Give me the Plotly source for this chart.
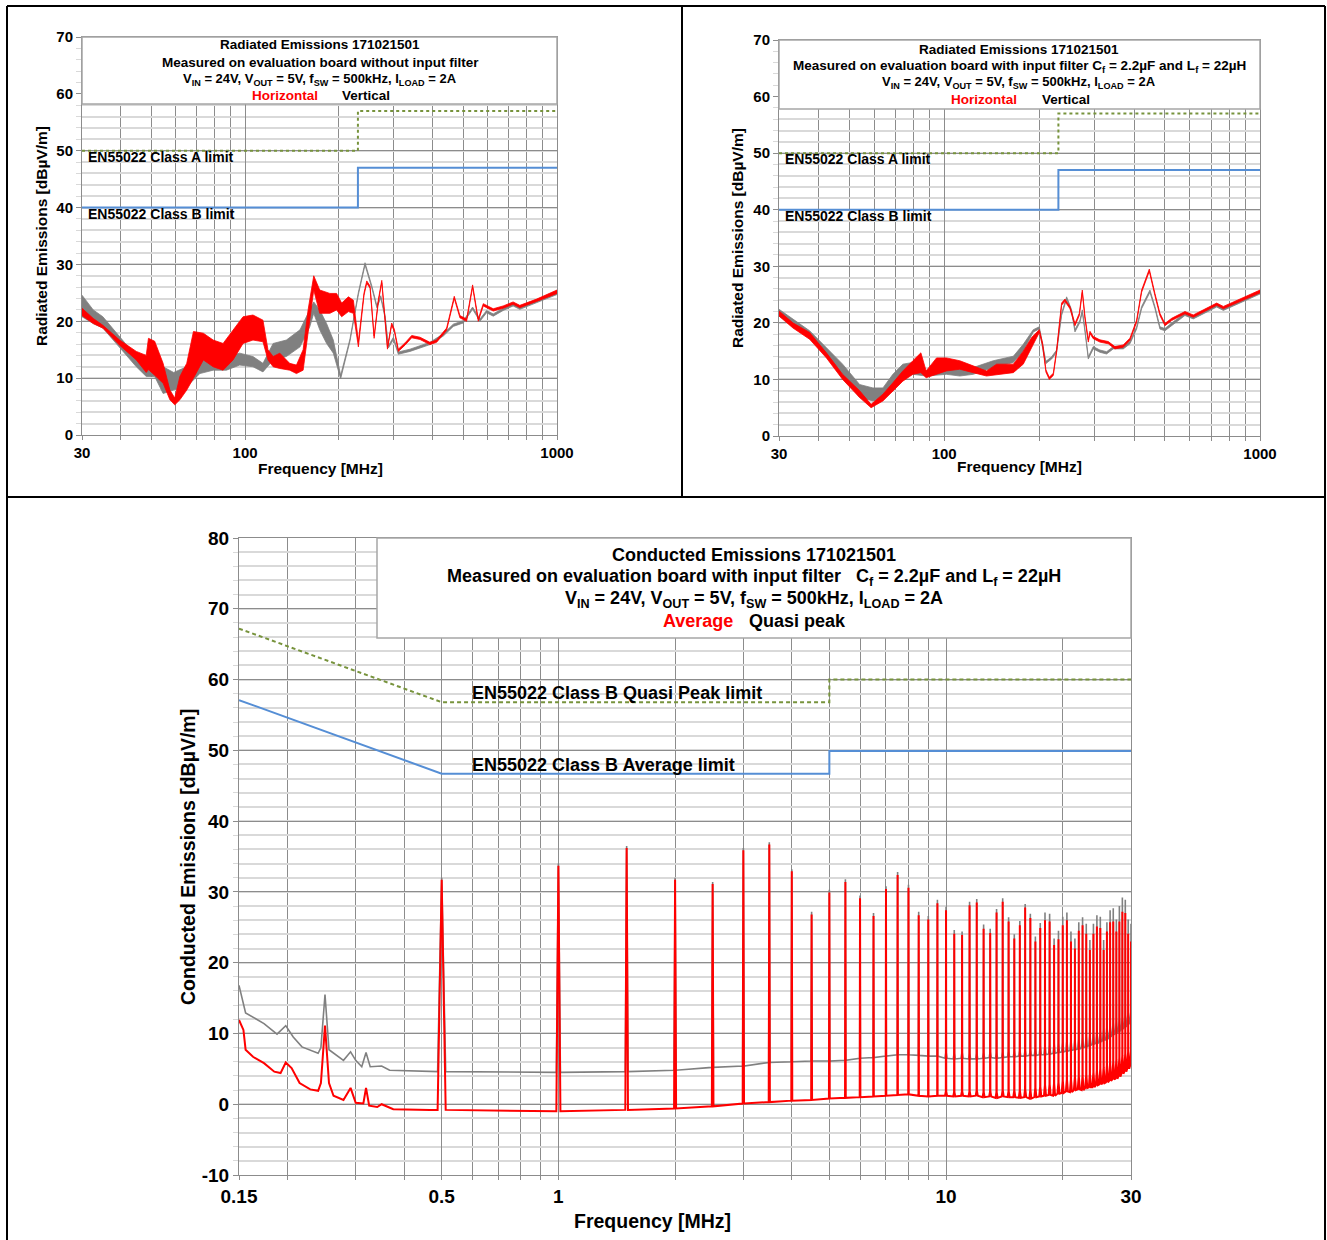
import math
import plotly.graph_objects as go

# ---------------- DATA ----------------
# Radiated emissions, board WITHOUT input filter (MHz, dBuV/m) - envelope (low/high) of the noisy trace
RE1_H_F = [30.0, 32.6, 35.0, 39.6, 44.8, 48.2, 49.0, 51.3, 54.6, 57.4, 59.5, 61.8, 65.0, 68.3, 73.5, 79.0, 85.0,
           91.5, 98.5, 106.0, 114.1, 118.4, 123.0, 129.2, 139.0, 146.1, 153.5, 159.2, 166.0, 173.5, 187.0, 196.5,
           204.0, 214.4, 222.4, 230.8, 240.6, 245.5, 251.6, 259.2, 267.6, 274.3, 281.1, 286.0, 295.1, 301.0, 309.9,
           325.6, 342.1, 363.7, 391.4, 411.1, 442.6, 468.4, 488.4, 513.1, 536.3, 559.2, 580.2, 624.5, 672.1, 723.3,
           760.0, 860.0, 1000.0]
RE1_H_LO = [21.0, 19.6, 18.8, 15.8, 13.2, 11.0, 11.5, 10.5, 9.1, 6.2, 5.3, 6.2, 7.9, 10.0, 13.2, 12.0, 11.4,
            13.2, 16.1, 16.7, 16.4, 13.2, 12.0, 11.7, 11.4, 10.8, 11.4, 17.9, 25.5, 21.4, 21.4, 22.0,
            20.8, 21.7, 21.4, 15.5, 24.6, 26.7, 25.8, 17.0, 23.5, 26.8, 20.6, 15.1, 19.3, 18.2, 14.7,
            15.8, 17.1, 16.8, 15.9, 16.3, 18.4, 24.0, 20.6, 20.0, 26.0, 20.0, 22.7, 21.8, 22.3, 23.0,
            22.4, 23.5, 24.9]
RE1_H_HI = [22.3, 20.5, 19.3, 16.7, 14.7, 14.0, 17.0, 16.5, 12.6, 7.9, 6.5, 10.3, 12.6, 18.2, 17.9, 16.7, 16.1,
            18.5, 20.8, 21.1, 20.2, 15.0, 13.8, 14.4, 12.6, 12.3, 15.0, 22.0, 28.0, 25.5, 24.9, 24.9,
            23.2, 24.3, 23.7, 16.5, 25.0, 27.1, 26.2, 17.4, 23.9, 27.2, 21.0, 15.5, 19.7, 18.6, 15.1,
            16.2, 17.5, 17.2, 16.3, 16.7, 18.8, 24.4, 21.0, 20.4, 26.4, 20.4, 23.1, 22.2, 22.7, 23.4,
            22.8, 23.9, 25.5]

RE1_V_F = [30.0, 32.6, 35.0, 39.6, 44.8, 48.2, 51.3, 54.6, 59.0, 65.0, 71.6, 79.0, 87.1, 96.1, 106.0, 114.1,
           123.0, 135.6, 150.0, 161.1, 166.0, 173.5, 182.5, 191.8, 202.5, 216.9, 230.8, 242.4, 254.7, 264.4,
           272.3, 281.1, 288.0, 298.9, 309.9, 338.0, 363.7, 391.4, 432.0, 465.0, 500.6, 536.3, 566.2, 594.6,
           624.5, 672.1, 723.3, 760.0, 860.0, 1000.0]
RE1_V_LO = [20.8, 19.6, 18.8, 15.5, 12.0, 10.3, 10.3, 7.3, 7.9, 8.5, 10.8, 11.4, 11.4, 12.3, 12.0, 11.1,
            13.2, 13.8, 15.5, 19.0, 21.4, 18.5, 16.1, 14.4, 9.9, 16.5, 24.7, 29.9, 25.9, 22.4,
            24.1, 20.6, 15.3, 16.8, 14.2, 14.7, 15.3, 15.9, 17.4, 19.1, 19.7, 22.1, 20.0, 21.5,
            20.9, 21.9, 22.7, 22.1, 23.3, 24.7]
RE1_V_HI = [24.6, 22.0, 20.8, 17.3, 13.8, 11.4, 13.2, 12.0, 11.0, 12.0, 14.4, 15.0, 13.8, 14.4, 13.8, 12.6,
            16.1, 16.7, 18.5, 22.0, 23.4, 22.0, 19.6, 16.7, 10.5, 16.9, 25.1, 30.3, 26.3, 22.8,
            24.5, 21.0, 15.7, 17.2, 14.6, 15.1, 15.7, 16.3, 17.8, 19.5, 20.1, 22.5, 20.4, 21.9,
            21.3, 22.3, 23.1, 22.5, 23.7, 25.2]

# Radiated emissions, board WITH input filter
RE2_H_F = [30.0, 33.2, 37.5, 42.4, 47.7, 54.0, 58.7, 64.0, 68.8, 74.0, 79.6, 84.4, 87.7, 94.6, 101.7, 112.1,
           123.5, 136.2, 146.6, 165.6, 178.0, 189.2, 200.1, 205.0, 210.0, 215.2, 221.6, 227.0, 235.4, 241.2,
           250.2, 259.5, 267.9, 273.8, 279.2, 286.0, 289.5, 296.5, 311.3, 330.8, 347.3, 369.0, 387.5, 406.8,
           421.9, 446.2, 464.9, 482.2, 500.1, 525.0, 578.6, 614.8, 661.6, 729.2, 765.6, 844.3, 1000.0]
RE2_H_LO = [21.2, 19.1, 17.1, 13.8, 10.0, 6.8, 5.0, 6.2, 8.0, 9.7, 10.9, 11.2, 10.3, 10.9, 11.5, 11.8,
            11.2, 10.6, 10.9, 11.2, 12.7, 15.6, 18.3, 16.0, 11.3, 10.0, 10.7, 14.8, 23.1, 23.8,
            22.5, 19.5, 21.3, 25.4, 20.7, 16.6, 18.1, 17.2, 16.6, 16.3, 15.4, 15.7, 16.9, 20.1,
            25.4, 29.1, 24.8, 21.3, 19.5, 20.4, 21.6, 21.0, 21.9, 23.1, 22.5, 23.6, 25.3]
RE2_H_HI = [22.1, 20.0, 18.3, 14.7, 10.9, 8.0, 5.6, 7.4, 9.4, 11.5, 13.3, 14.7, 11.5, 13.8, 13.8, 13.3,
            12.4, 11.5, 12.7, 12.7, 15.0, 17.4, 18.8, 16.4, 11.7, 10.4, 11.1, 15.2, 23.5, 24.2,
            22.9, 19.9, 21.7, 25.8, 21.1, 17.0, 18.5, 17.6, 17.0, 16.7, 15.8, 16.1, 17.3, 20.5,
            25.8, 29.5, 25.2, 21.7, 19.9, 20.8, 22.0, 21.4, 22.3, 23.5, 22.9, 24.0, 25.8]

RE2_V_F = [30.0, 33.2, 37.5, 42.4, 47.7, 54.0, 59.5, 64.0, 68.8, 74.0, 79.6, 87.7, 101.7, 112.1, 123.5, 143.0,
           165.6, 178.0, 191.5, 200.1, 206.0, 210.0, 218.9, 227.0, 235.4, 244.2, 253.3, 259.5, 269.2, 273.8,
           279.2, 286.0, 296.5, 311.3, 326.8, 343.1, 369.0, 387.5, 406.8, 421.9, 448.3, 464.9, 482.2, 500.1,
           531.4, 578.6, 614.8, 661.6, 729.2, 765.6, 844.3, 1000.0]
RE2_V_LO = [21.2, 19.4, 17.4, 14.4, 10.9, 6.8, 6.2, 6.8, 8.0, 10.3, 10.9, 10.6, 10.9, 10.6, 10.9, 12.1,
            13.0, 15.0, 18.4, 18.9, 14.8, 12.8, 13.6, 14.8, 21.3, 24.2, 21.9, 18.4, 20.1, 21.9,
            18.4, 13.6, 15.4, 14.8, 14.5, 15.4, 15.4, 16.3, 18.9, 22.5, 25.4, 22.5, 18.9, 18.6,
            19.8, 21.3, 20.7, 21.6, 22.8, 22.2, 23.3, 25.1]
RE2_V_HI = [22.4, 20.6, 18.6, 15.6, 12.7, 9.1, 8.5, 8.5, 10.9, 12.7, 13.0, 11.5, 12.1, 11.8, 12.1, 13.3,
            14.1, 16.2, 18.8, 19.3, 15.2, 13.2, 14.0, 15.2, 21.7, 24.6, 22.3, 18.8, 20.5, 22.3,
            18.8, 14.0, 15.8, 15.2, 14.9, 15.8, 15.8, 16.7, 19.3, 22.9, 25.8, 22.9, 19.3, 19.0,
            20.2, 21.7, 21.1, 22.0, 23.2, 22.6, 23.7, 25.5]

# Radiated limits
RE_LIM_F = [30, 230, 230, 1000]
RE_CLASS_A = [50, 50, 57, 57]
RE_CLASS_B = [40, 40, 47, 47]

# Conducted emissions (MHz, dBuV)
CE_AVG_LOW_F = [0.150, 0.154, 0.156, 0.163, 0.174, 0.185, 0.192, 0.198, 0.205, 0.215, 0.229, 0.240, 0.244,
                0.250, 0.256, 0.263, 0.279, 0.291, 0.300, 0.314, 0.319, 0.325, 0.341, 0.350, 0.375, 0.420,
                0.466, 0.486]
CE_AVG_LOW_V = [11.9, 10.5, 7.7, 6.7, 5.8, 4.6, 4.4, 5.9, 5.1, 3.0, 2.1, 1.9, 3.0,
                11.1, 3.0, 1.2, 0.6, 2.3, 0.2, 0.1, 2.3, -0.2, -0.4, 0.0, -0.7, -0.8,
                -0.8, -0.8]
CE_QP_LOW_F = [0.150, 0.156, 0.174, 0.188, 0.198, 0.207, 0.218, 0.240, 0.244, 0.250, 0.256, 0.279, 0.291,
               0.300, 0.311, 0.319, 0.327, 0.350, 0.367, 0.420, 0.466, 0.486]
CE_QP_LOW_V = [16.8, 12.9, 11.4, 9.9, 11.1, 9.5, 8.1, 7.2, 8.0, 15.5, 7.7, 6.2, 7.4,
               6.2, 5.3, 7.3, 5.3, 5.4, 4.8, 4.7, 4.7, 4.6]

HARM_F = [0.5, 1.0, 1.5, 2.0, 2.5, 3.0, 3.5, 4.0, 4.5, 5.0, 5.5, 6.0, 6.5, 7.0, 7.5, 8.0, 8.5, 9.0, 9.5, 10.0,
          10.5, 11.0, 11.5, 12.0, 12.5, 13.0, 13.5, 14.0, 14.5, 15.0, 15.5, 16.0, 16.5, 17.0, 17.5, 18.0, 18.5,
          19.0, 19.5, 20.0, 20.5, 21.0, 21.5, 22.0, 22.5, 23.0, 23.5, 24.0, 24.5, 25.0, 25.5, 26.0, 26.5, 27.0,
          27.5, 28.0, 28.5, 29.0, 29.5, 30.0]
AVG_PEAK = [31.7, 33.7, 36.2, 31.7, 31.1, 35.9, 36.7, 32.9, 26.8, 29.9, 31.4, 29.1, 26.6, 30.4, 32.4, 30.6,
            26.7, 26.1, 28.4, 27.4, 24.1, 23.9, 28.1, 28.5, 24.8, 24.2, 27.1, 28.6, 25.8, 23.4, 25.3, 27.8,
            26.3, 23.0, 24.9, 26.0, 25.8, 22.5, 23.3, 25.3, 26.0, 23.0, 22.0, 24.5, 25.3, 24.1, 21.8, 24.1,
            25.1, 24.9, 21.8, 24.4, 25.7, 25.8, 24.4, 25.8, 27.2, 27.0, 24.1, 23.0]
QP_PEAK = [32.0, 34.0, 36.5, 32.0, 31.4, 36.2, 37.0, 33.2, 27.2, 30.3, 31.8, 29.5, 27.0, 30.8, 32.8, 31.0,
           27.2, 26.6, 28.9, 27.9, 24.6, 24.4, 28.6, 29.0, 25.4, 24.8, 27.6, 29.1, 26.4, 24.0, 25.9, 28.3,
           26.9, 23.7, 25.6, 27.1, 26.9, 23.4, 24.5, 26.5, 27.1, 24.4, 23.4, 25.7, 26.4, 25.5, 23.2, 25.5,
           26.7, 26.5, 23.2, 25.7, 27.4, 27.7, 26.1, 28.0, 29.2, 28.9, 26.1, 25.5]
AVG_FLOOR = [-0.8, -1.0, -0.8, -0.6, -0.3, 0.1, 0.3, 0.5, 0.6, 0.8, 0.9, 1.0, 1.1, 1.2, 1.3, 1.4, 1.2, 1.1,
             1.2, 1.2, 1.1, 1.2, 1.1, 1.2, 1.0, 1.1, 0.9, 1.1, 1.0, 1.0, 0.9, 1.0, 0.8, 1.0, 1.1, 1.2, 1.3,
             1.2, 1.5, 1.6, 1.8, 1.7, 2.0, 2.1, 2.0, 2.3, 2.4, 2.4, 2.7, 2.8, 3.0, 3.1, 3.3, 3.5, 3.6, 3.9,
             4.3, 4.6, 5.0, 5.4]
AVG_SHOULDER = [-0.8, -1.0, -0.8, -0.6, -0.3, 0.1, 0.3, 0.5, 0.6, 0.8, 0.9, 1.0, 1.1, 1.2, 1.3, 1.4, 1.2, 1.1,
                1.2, 1.8, 1.7, 1.8, 1.8, 1.9, 1.7, 1.8, 1.7, 1.9, 1.8, 1.9, 1.9, 2.1, 2.0, 2.3, 2.5, 2.7, 2.8,
                2.9, 3.1, 3.3, 3.5, 3.5, 3.8, 3.9, 4.0, 4.2, 4.3, 4.5, 4.8, 5.0, 5.2, 5.5, 5.8, 6.0, 6.3, 6.6,
                6.9, 7.2, 7.4, 7.6]
QP_FLOOR = [4.6, 4.5, 4.6, 4.8, 5.2, 5.4, 5.9, 6.0, 6.1, 6.1, 6.2, 6.5, 6.6, 6.8, 7.0, 7.0, 6.9, 6.8, 6.8,
            6.5, 6.4, 6.5, 6.4, 6.4, 6.5, 6.6, 6.5, 6.6, 6.7, 6.7, 6.8, 6.8, 6.9, 6.9, 7.0, 7.0, 7.1, 7.2,
            7.3, 7.4, 7.5, 7.6, 7.7, 7.8, 8.0, 8.1, 8.3, 8.5, 8.6, 8.8, 9.0, 9.2, 9.5, 9.8, 10.0, 10.3,
            10.6, 10.9, 11.3, 11.6]
QP_SHOULDER = [4.6, 4.5, 4.6, 4.8, 5.2, 5.4, 5.9, 6.0, 6.1, 6.1, 6.2, 6.5, 6.6, 6.8, 7.0, 7.0, 6.9, 6.8, 6.8,
               7.3, 7.2, 7.3, 7.2, 7.2, 7.3, 7.4, 7.3, 7.4, 7.5, 7.5, 7.6, 7.6, 7.7, 8.0, 8.2, 8.3, 8.4, 8.5,
               8.6, 8.7, 8.9, 9.0, 9.1, 9.2, 9.4, 9.6, 9.8, 10.0, 10.2, 10.4, 10.6, 10.9, 11.2, 11.5, 11.8,
               12.1, 12.4, 12.7, 13.0, 13.2]

CE_LIM_F = [0.15, 0.5, 5.0, 5.0, 30.0]
CE_QP_LIM = [67.2, 56.8, 56.8, 60.0, 60.0]
CE_AVG_LIM = [57.1, 46.7, 46.7, 49.9, 49.9]

# ---------------- STYLE ----------------
W, H = 1327, 1240
FONT = "Liberation Sans, Arial, sans-serif"
RED = "#FF0000"
GRAY = "#808080"
OLIVE = "#77933C"
BLUE = "#558ED5"
VGRID = "#8C8C8C"
MAJ = "#8C8C8C"
MINC = "#D9D9D9"
AXC = "#8C8C8C"


def px(x):
    return x / W


def py(y):
    return 1 - y / H


fig = go.Figure()


def band(f, lo, hi, color, xa, ya):
    xs = list(f) + list(f)[::-1]
    ys = list(hi) + list(lo)[::-1]
    fig.add_trace(go.Scatter(x=xs, y=ys, mode="lines", fill="toself", fillcolor=color,
                             line=dict(color=color, width=0.8), xaxis=xa, yaxis=ya,
                             hoverinfo="skip", showlegend=False))


def line(f, v, color, dash, width, xa, ya):
    fig.add_trace(go.Scatter(x=f, y=v, mode="lines", line=dict(color=color, width=width, dash=dash),
                             xaxis=xa, yaxis=ya, hoverinfo="skip", showlegend=False))


def spikes(low_f, low_v, peaks, floors, shoulders):
    xs = list(low_f)
    ys = list(low_v)
    for f, p, b, s in zip(HARM_F, peaks, floors, shoulders):
        if s > b:
            xs += [f - 0.006 * f, f - 0.012, f, f + 0.012, f + 0.006 * f]
            ys += [b, s, p, s, b]
        else:
            xs += [f - 0.012, f, f + 0.012]
            ys += [b, p, b]
    return xs, ys


# Top-left
line(RE_LIM_F, RE_CLASS_A, OLIVE, "3px,3px", 2, "x", "y")
line(RE_LIM_F, RE_CLASS_B, BLUE, "solid", 2, "x", "y")
band(RE1_V_F, RE1_V_LO, RE1_V_HI, GRAY, "x", "y")
band(RE1_H_F, RE1_H_LO, RE1_H_HI, RED, "x", "y")

# Top-right
line(RE_LIM_F, RE_CLASS_A, OLIVE, "3px,3px", 2, "x2", "y2")
line(RE_LIM_F, RE_CLASS_B, BLUE, "solid", 2, "x2", "y2")
band(RE2_V_F, RE2_V_LO, RE2_V_HI, GRAY, "x2", "y2")
band(RE2_H_F, RE2_H_LO, RE2_H_HI, RED, "x2", "y2")

# Bottom
line(CE_LIM_F, CE_QP_LIM, OLIVE, "4px,3px", 2, "x3", "y3")
line(CE_LIM_F, CE_AVG_LIM, BLUE, "solid", 2, "x3", "y3")
qx, qy = spikes(CE_QP_LOW_F, CE_QP_LOW_V, QP_PEAK, QP_FLOOR, QP_SHOULDER)
line(qx, qy, GRAY, "solid", 1.6, "x3", "y3")
ax_, ay_ = spikes(CE_AVG_LOW_F, CE_AVG_LOW_V, AVG_PEAK, AVG_FLOOR, AVG_SHOULDER)
line(ax_, ay_, RED, "solid", 2, "x3", "y3")


def xcfg(x0, x1, lo, hi, tv, tt, minor_vals, fs, anchor):
    return dict(domain=[px(x0), px(x1)], type="log", range=[math.log10(lo), math.log10(hi)],
                tickmode="array", tickvals=tv, ticktext=tt, showgrid=True, gridcolor=VGRID, gridwidth=1,
                minor=dict(tickmode="array", tickvals=minor_vals, showgrid=True, gridcolor=VGRID,
                           gridwidth=1, ticks="outside", ticklen=4, tickcolor=VGRID),
                ticks="outside", ticklen=4, tickcolor=VGRID, showline=True, linecolor=AXC, linewidth=1,
                mirror=True, zeroline=False, anchor=anchor, automargin=False,
                tickfont=dict(family=FONT, size=fs, color="black", weight="bold"))


def ycfg(y0, y1, lo, hi, fs, anchor):
    vals = list(range(lo, hi + 1, 10))
    return dict(domain=[py(y1), py(y0)], range=[lo, hi], tickmode="array", tickvals=vals,
                ticktext=[str(v) for v in vals],
                showgrid=True, gridcolor=MAJ, gridwidth=1,
                minor=dict(dtick=2, tick0=0, showgrid=True, gridcolor=MINC, gridwidth=2, ticks="outside",
                           ticklen=5, tickcolor=MINC),
                ticks="outside", ticklen=5, tickcolor=MAJ, showline=True, linecolor=AXC, linewidth=1,
                mirror=True, zeroline=False, anchor=anchor, automargin=False,
                tickfont=dict(family=FONT, size=fs, color="black", weight="bold"))


RE_MINOR = [40, 50, 60, 70, 80, 90, 200, 300, 400, 500, 600, 700, 800, 900]
CE_MINOR = [0.2, 0.3, 0.4, 0.6, 0.7, 0.8, 0.9, 2, 3, 4, 5, 6, 7, 8, 9, 20]

fig.update_layout(
    width=W, height=H, autosize=False,
    margin=dict(l=0, r=0, t=0, b=0, pad=0, autoexpand=False),
    paper_bgcolor="white", plot_bgcolor="white", showlegend=False,
    xaxis=xcfg(82, 557, 30, 1000, [30, 100, 1000], ["30", "100", "1000"], RE_MINOR, 15, "y"),
    yaxis=ycfg(37, 435, 0, 70, 15, "x"),
    xaxis2=xcfg(779, 1260, 30, 1000, [30, 100, 1000], ["30", "100", "1000"], RE_MINOR, 15, "y2"),
    yaxis2=ycfg(40, 436, 0, 70, 15, "x2"),
    xaxis3=xcfg(239, 1131, 0.15, 30, [0.15, 0.5, 1, 10, 30], ["0.15", "0.5", "1", "10", "30"], CE_MINOR, 19, "y3"),
    yaxis3=ycfg(538, 1175, -10, 80, 19, "x3"),
)

shapes = []
# frame lines
for (x0, y0, x1, y1) in [(7, 6, 1325, 6), (7, 6, 7, 1240), (1325, 6, 1325, 1240), (682, 6, 682, 497), (7, 497, 1325, 497)]:
    shapes.append(dict(type="line", xref="paper", yref="paper", x0=px(x0), y0=py(y0), x1=px(x1), y1=py(y1),
                       line=dict(color="black", width=2)))
# title boxes
for (x0, y0, x1, y1) in [(82, 37, 557, 104), (779, 40, 1260, 109), (377, 538, 1131, 638)]:
    shapes.append(dict(type="rect", xref="paper", yref="paper", x0=px(x0), y0=py(y1), x1=px(x1), y1=py(y0),
                       fillcolor="white", line=dict(color="#A6A6A6", width=1.5), layer="above"))
fig.update_layout(shapes=shapes)

ann = []


def text(t, x, y, size, color="black", xanchor="center", angle=0):
    ann.append(dict(text=t, x=px(x), y=py(y), xref="paper", yref="paper", showarrow=False,
                    xanchor=xanchor, yanchor="middle", textangle=angle,
                    font=dict(family=FONT, size=size, color=color, weight="bold")))


SUB3 = "V<sub>IN</sub> = 24V, V<sub>OUT</sub> = 5V, f<sub>SW</sub> = 500kHz, I<sub>LOAD</sub> = 2A"
# top-left texts
text("Radiated Emissions 171021501", 320, 45, 13.5)
text("Measured on evaluation board without input filter", 320, 62, 13.5)
text(SUB3, 320, 79, 13)
text("Horizontal", 285, 95, 13.5, RED)
text("Vertical", 366, 95, 13.5)
text("EN55022 Class A limit", 86, 157, 14, xanchor="left")
text("EN55022 Class B limit", 86, 214, 14, xanchor="left")
text("Radiated Emissions [dBµV/m]", 42, 236, 15.5, angle=-90)
text("Frequency [MHz]", 320, 468, 15.5)
# top-right texts
text("Radiated Emissions 171021501", 1019, 49, 13.5)
text("Measured on evaluation board with input filter C<sub>f</sub> = 2.2µF and L<sub>f</sub> = 22µH", 1019, 66, 13.5)
text(SUB3, 1019, 82, 13)
text("Horizontal", 984, 99, 13.5, RED)
text("Vertical", 1066, 99, 13.5)
text("EN55022 Class A limit", 783, 159, 14, xanchor="left")
text("EN55022 Class B limit", 783, 216, 14, xanchor="left")
text("Radiated Emissions [dBµV/m]", 738, 238, 15.5, angle=-90)
text("Frequency [MHz]", 1019, 467, 15.5)
# bottom texts
text("Conducted Emissions 171021501", 754, 555, 18)
text("Measured on evaluation board with input filter   C<sub>f</sub> = 2.2µF and L<sub>f</sub> = 22µH", 754, 577, 18)
text(SUB3, 754, 599, 18)
text("Average", 698, 621, 18, RED)
text("Quasi peak", 797, 621, 18)
text("EN55022 Class B Quasi Peak limit", 470, 693, 18, xanchor="left")
text("EN55022 Class B Average limit", 470, 765, 18, xanchor="left")
text("Conducted Emissions [dBµV/m]", 188, 857, 19.5, angle=-90)
text("Frequency [MHz]", 652, 1221, 19.5)
fig.update_layout(annotations=ann)

fig.write_html("out.html", config={"displayModeBar": False, "staticPlot": True},
               post_script="document.body.style.margin='0';")
